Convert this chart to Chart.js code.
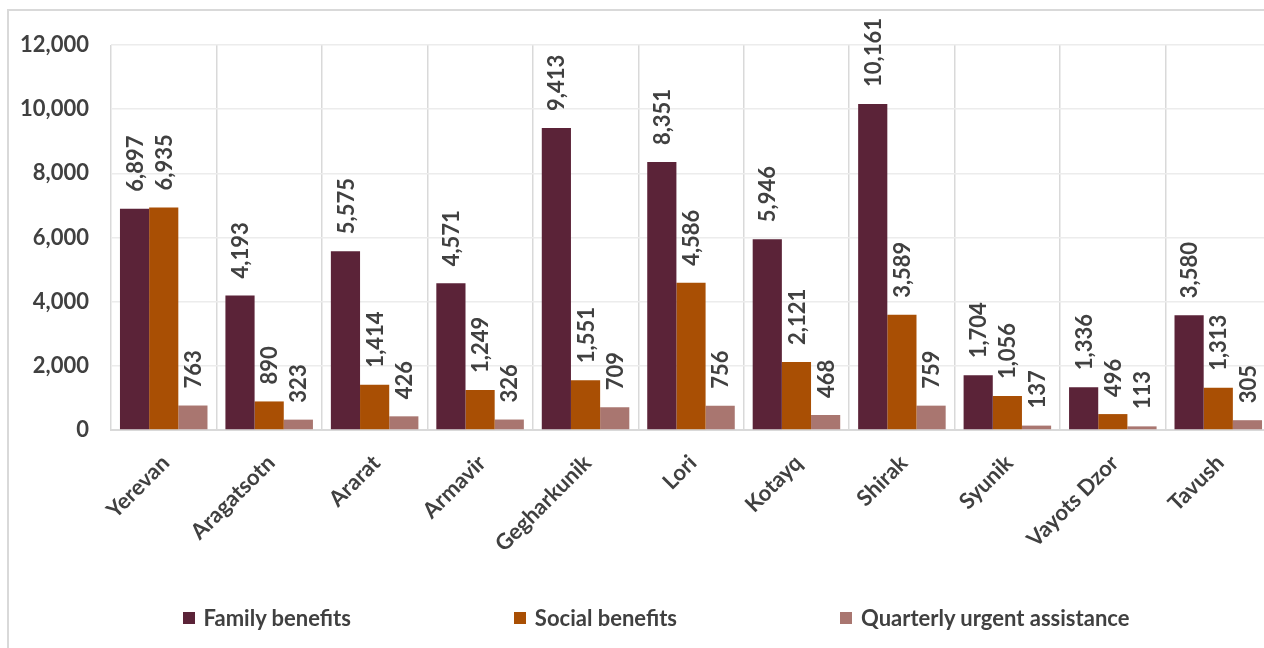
<!DOCTYPE html>
<html>
<head>
<meta charset="utf-8">
<script src="https://cdn.jsdelivr.net/npm/chart.js@4"></script>
<style>
  html, body { margin: 0; padding: 0; background: #fff; overflow: hidden; }
  #frame { position: absolute; left: 7px; top: 9px; width: 1400px; height: 700px; border: 2px solid #d9d9d9; }
  #wrap { position: absolute; left: 0; top: 0; width: 1300px; height: 648px; }
  #legend { position: absolute; left: 0; top: 604px; width: 1312px; display: flex; justify-content: center; gap: 163px;
    font: bold 22px Lato, "Open Sans", sans-serif; color: #404040; }
  #legend span.item { display: flex; align-items: center; white-space: nowrap; }
  #legend span.box { display: inline-block; width: 12px; height: 12px; margin-right: 9px; }
</style>
</head>
<body>
<div id="frame"></div>
<div id="wrap"><canvas id="chart"></canvas></div>
<div id="legend"></div>
<script>
const regions = ['Yerevan', 'Aragatsotn', 'Ararat', 'Armavir', 'Gegharkunik', 'Lori', 'Kotayq', 'Shirak', 'Syunik', 'Vayots Dzor', 'Tavush']
const familyBenefits = [6897, 4193, 5575, 4571, 9413, 8351, 5946, 10161, 1704, 1336, 3580]
const socialBenefits = [6935, 890, 1414, 1249, 1551, 4586, 2121, 3589, 1056, 496, 1313]
const urgentAssistance = [763, 323, 426, 326, 709, 756, 468, 759, 137, 113, 305]
const yTicks = [0, 2000, 4000, 6000, 8000, 10000, 12000]

const textColor = '#404040'
const fontFamily = 'Lato, "Open Sans", sans-serif'

// value labels standing on top of each bar, turned upright
const barLabels = {
  id: 'barLabels',
  afterDatasetsDraw (chart) {
    const { ctx } = chart
    ctx.save()
    ctx.fillStyle = textColor
    ctx.font = `bold 22px ${fontFamily}`
    ctx.textAlign = 'left'
    ctx.textBaseline = 'middle'
    chart.data.datasets.forEach((dataset, i) => {
      chart.getDatasetMeta(i).data.forEach((bar, j) => {
        ctx.save()
        ctx.translate(bar.x + 1, bar.y - 17)
        ctx.rotate(-Math.PI / 2)
        ctx.fillText(dataset.data[j].toLocaleString('en-US'), 0, 0)
        ctx.restore()
      })
    })
    ctx.restore()
  }
}

// legend underneath, same order and colours as the datasets
const htmlLegend = {
  id: 'htmlLegend',
  afterUpdate (chart) {
    const box = document.getElementById('legend')
    box.innerHTML = ''
    chart.data.datasets.forEach(dataset => {
      const item = document.createElement('span')
      item.className = 'item'
      const swatch = document.createElement('span')
      swatch.className = 'box'
      swatch.style.background = dataset.backgroundColor
      item.appendChild(swatch)
      item.appendChild(document.createTextNode(dataset.label))
      box.appendChild(item)
    })
  }
}

document.addEventListener('DOMContentLoaded', () => {
  const canvas = document.getElementById('chart')
  new Chart(canvas, {
    type: 'bar',
    data: {
      labels: regions,
      datasets: [
        { label: 'Family benefits', data: familyBenefits, backgroundColor: '#5b2338' },
        { label: 'Social benefits', data: socialBenefits, backgroundColor: '#a94f04' },
        { label: 'Quarterly urgent assistance', data: urgentAssistance, backgroundColor: '#a97670' }
      ]
    },
    options: {
      responsive: true,
      maintainAspectRatio: false,
      animation: false,
      categoryPercentage: 0.83,
      barPercentage: 1,
      layout: { padding: { top: 45, right: 29, bottom: 78, left: 0 } },
      plugins: {
        tooltip: { enabled: false },
        legend: { display: false }
      },
      scales: {
        x: {
          grid: { color: '#d9d9d9', lineWidth: 1.5, drawTicks: false, offset: true },
          border: { color: '#d9d9d9', width: 2 },
          ticks: {
            color: textColor,
            font: { family: fontFamily, size: 22, weight: 'bold' },
            minRotation: 45,
            maxRotation: 45,
            padding: 20,
            labelOffset: 2
          },
          afterFit (scale) { scale.height = 140 }
        },
        y: {
          min: 0,
          max: 12000,
          grid: { color: '#ececec', lineWidth: 1.5, drawTicks: false },
          border: { display: false },
          afterBuildTicks (scale) { scale.ticks = yTicks.map(value => ({ value })) },
          ticks: {
            color: textColor,
            font: { family: fontFamily, size: 22, weight: 'bold' },
            padding: 22,
            callback: value => value.toLocaleString('en-US')
          },
          afterFit (scale) { scale.width = 111 }
        }
      }
    },
    plugins: [barLabels, htmlLegend]
  })
})
</script>
</body>
</html>
